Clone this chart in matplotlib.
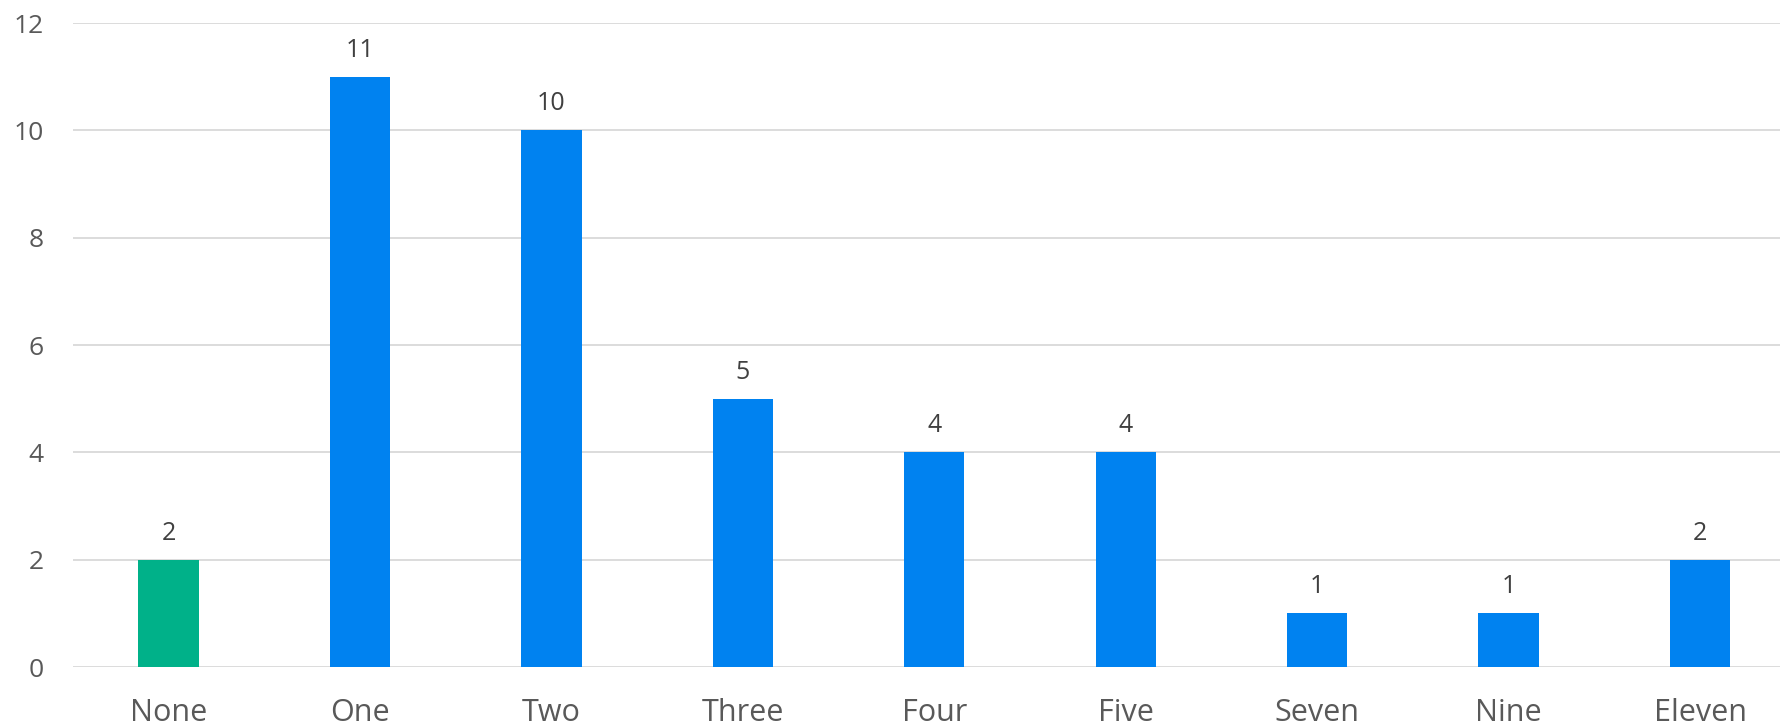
import matplotlib.pyplot as plt

categories = ["None", "One", "Two", "Three", "Four", "Five", "Seven", "Nine", "Eleven"]
counts = [2, 11, 10, 5, 4, 4, 1, 1, 2]
bar_colors = ["#00B189"] + ["#0082F0"] * 8

plt.rcParams["font.family"] = ["Open Sans", "DejaVu Sans"]

fig = plt.figure(figsize=(17.81, 7.27), dpi=100)
ax = fig.add_axes([0.0409, 0.0825, 0.9674, 0.8858])

x = range(len(categories))
bars = ax.bar(x, counts, width=0.315, color=bar_colors, zorder=3)

for rect, val in zip(bars, counts):
    ax.annotate(str(val), (rect.get_x() + rect.get_width() / 2, val),
                xytext=(0, 10), textcoords="offset points",
                ha="center", va="bottom", fontsize=18, color="#404040")

ax.set_xlim(-0.5, len(categories) - 0.5)
ax.set_ylim(0, 12)
ax.set_yticks(range(0, 13, 2))
ax.set_xticks(list(x))
ax.set_xticklabels(categories)

ax.grid(axis="y", color="#D9D9D9", linewidth=1.3, zorder=0)
for side in ["top", "right", "left", "bottom"]:
    ax.spines[side].set_visible(False)
ax.tick_params(axis="y", length=0, pad=21, labelsize=19, labelcolor="#595959")
ax.tick_params(axis="x", length=0, pad=22, labelsize=22, labelcolor="#595959")

fig.savefig("out.png", dpi=100)
